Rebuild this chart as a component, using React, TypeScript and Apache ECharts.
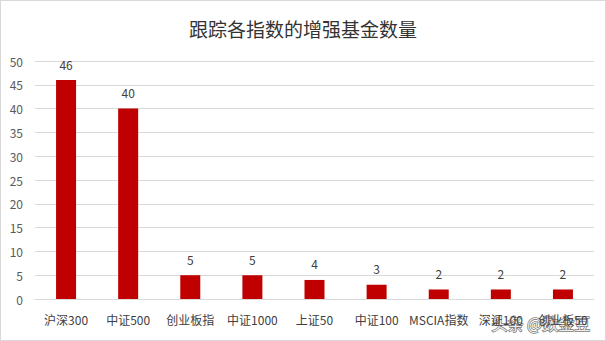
import React, { useEffect, useRef } from "react";
import * as echarts from "echarts";

const categories = ["沪深300", "中证500", "创业板指", "中证1000", "上证50", "中证100", "MSCIA指数", "深证100", "创业板50"];
const values = [46, 40, 5, 5, 4, 3, 2, 2, 2];
const yTicks = { min: 0, max: 50, interval: 5 };
const titleText = "跟踪各指数的增强基金数量";
const watermark = "头条 @数金豆";

export default function App() {
  const ref = useRef<HTMLDivElement>(null);
  useEffect(() => {
    document.body.style.margin = "0";
    const chart = echarts.init(ref.current!, null, { renderer: "svg" });
    const font = "'Noto Sans CJK SC', 'Microsoft YaHei', sans-serif";
    chart.setOption({
      animation: false,
      backgroundColor: "#ffffff",
      title: {
        text: titleText,
        left: "center",
        top: 13,
        textStyle: { fontSize: 19, fontWeight: "normal", color: "#333333", fontFamily: font },
      },
      grid: { left: 34, right: 11, top: 60, bottom: 41, containLabel: false },
      xAxis: {
        type: "category",
        data: categories,
        axisLine: { lineStyle: { color: "#d9d9d9" } },
        axisTick: { show: false },
        axisLabel: { color: "#404040", fontSize: 12, margin: 14, interval: 0, fontFamily: font },
      },
      yAxis: {
        type: "value",
        min: yTicks.min,
        max: yTicks.max,
        interval: yTicks.interval,
        axisLine: { show: false },
        axisTick: { show: false },
        splitLine: { lineStyle: { color: "#d9d9d9" } },
        axisLabel: { color: "#595959", fontSize: 12, margin: 12, fontFamily: font },
      },
      series: [
        {
          type: "bar",
          data: values,
          barWidth: 20,
          itemStyle: { color: "#c00000" },
          label: {
            show: true,
            position: "top",
            distance: 10,
            color: "#404040",
            fontSize: 12,
            fontFamily: font,
          },
        },
      ],
      graphic: [
        {
          type: "text",
          right: 14,
          top: 313,
          style: {
            text: watermark,
            fill: "rgba(255,255,255,0.9)",
            stroke: "rgba(60,60,60,0.7)",
            lineWidth: 1.5,
            font: "16px 'Noto Sans CJK SC', sans-serif",
          },
        },
      ],
    });
    return () => chart.dispose();
  }, []);
  return (
    <div
      ref={ref}
      style={{
        position: "fixed",
        left: 0,
        top: 0,
        width: 606,
        height: 341,
        border: "1px solid #d9d9d9",
        boxSizing: "border-box",
      }}
    />
  );
}
